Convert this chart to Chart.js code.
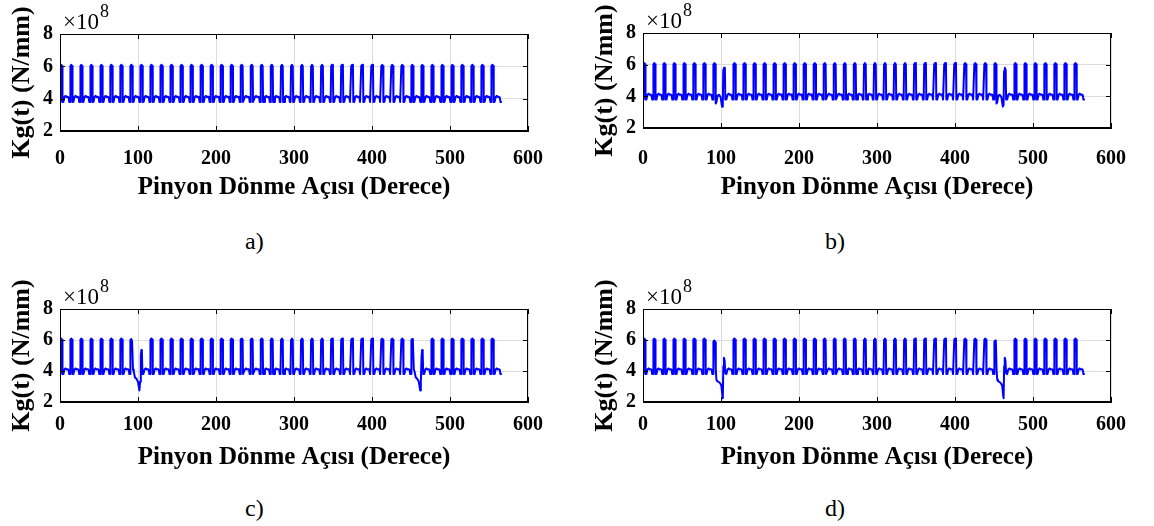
<!DOCTYPE html>
<html>
<head>
<meta charset="utf-8">
<script src="https://cdn.jsdelivr.net/npm/chart.js@4.4.1/dist/chart.umd.min.js"></script>
<style>
  body { margin: 0; background: #fff; width: 1154px; height: 526px; position: relative; overflow: hidden; }
  canvas { position: absolute; }
  .tag { position: absolute; font-family: "Liberation Serif", serif; font-size: 24px; line-height: 24px; color: #000; }
</style>
</head>
<body>
<canvas id="pa" width="577" height="200" style="left:0px;top:0px"></canvas>
<canvas id="pb" width="577" height="200" style="left:583px;top:0px"></canvas>
<canvas id="pc" width="577" height="200" style="left:0px;top:275px"></canvas>
<canvas id="pd" width="577" height="200" style="left:583px;top:275px"></canvas>
<div class="tag" style="left:245px;top:229px">a)</div>
<div class="tag" style="left:825px;top:229px">b)</div>
<div class="tag" style="left:245px;top:496px">c)</div>
<div class="tag" style="left:825px;top:496px">d)</div>
<script>
// axis ticks
var xTicks = [0, 100, 200, 300, 400, 500, 600];
var yTicks = [2, 4, 6, 8];
var xTitle = "Pinyon Dönme Açısı (Derece)";
var yTitle = "Kg(t) (N/mm)";

// start angle of every tooth pair engagement (deg)
var toothStart = [0, 12.86, 25.71, 38.57, 51.43, 64.29, 77.14, 90.00, 102.86, 115.71,
    128.57, 141.43, 154.29, 167.14, 180.00, 192.86, 205.71, 218.57, 231.43, 244.29,
    257.14, 270.00, 282.86, 295.71, 308.57, 321.43, 334.29, 347.14, 360.00, 372.86,
    385.71, 398.57, 411.43, 424.29, 437.14, 450.00, 462.86, 475.71, 488.57, 501.43,
    514.29, 527.14, 540.00, 552.86];

// one healthy mesh cycle: offset from tooth start (deg) and stiffness (x1e8 N/mm)
var healthyDx = [0, 0.5, 1.6, 2.7, 3.2, 4.4, 5.6, 7.0, 8.4, 9.8, 10.9, 11.8, 12.7];
var healthyK  = [3.8, 6.02, 6.1, 6.02, 3.8, 3.8, 4.1, 4.17, 4.1, 4.12, 4.08, 3.8, 3.8];

// cracked tooth windows (deg) - same tooth, once per pinion revolution
var crackStart = [90, 450];
var crackSpan = 25.7;

// b) small crack
var crackB_dx = [0, 0.5, 1.6, 2.7, 3.2, 4.0, 5.6, 7.5, 9.5, 11.3, 12.3, 12.9, 13.9, 15.0, 15.5, 16.9, 18.3, 19.8, 21.2, 22.6, 23.7, 24.6, 25.6];
var crackB_k  = [3.8, 6.02, 6.1, 6.02, 3.55, 3.6, 4.05, 4.1, 3.95, 3.35, 3.45, 5.6, 5.8, 5.65, 3.8, 3.8, 4.1, 4.17, 4.1, 4.12, 4.08, 3.8, 3.8];

// c) medium crack
var crackC_dx = [0, 0.5, 1.5, 2.4, 3.6, 4.6, 6.0, 8.0, 10.0, 11.8, 12.6, 13.6, 14.3, 15.0, 15.7, 16.9, 18.3, 19.8, 21.2, 22.6, 23.7, 24.6, 25.6];
var crackC_k  = [3.8, 6.0, 6.06, 5.9, 4.1, 3.95, 3.6, 3.5, 3.3, 2.75, 3.3, 5.0, 5.35, 5.15, 3.8, 3.8, 4.1, 4.17, 4.1, 4.12, 4.08, 3.8, 3.8];

// d) large crack
var crackD_dx = [0, 0.5, 1.5, 2.4, 3.3, 4.1, 5.0, 7.0, 9.0, 10.5, 11.6, 12.3, 13.0, 13.8, 14.6, 15.6, 16.9, 18.3, 19.8, 21.2, 22.6, 23.7, 24.6, 25.6];
var crackD_k  = [3.8, 5.9, 5.97, 5.85, 4.1, 3.45, 3.35, 3.3, 3.2, 3.05, 2.5, 2.25, 4.3, 4.85, 4.7, 3.85, 3.8, 4.1, 4.17, 4.1, 4.12, 4.08, 3.8, 3.8];

function buildSeries(cDx, cK) {
    var pts = [];
    for (var i = 0; i < toothStart.length; i++) {
        var t = toothStart[i];
        var inCrack = false;
        if (cDx) {
            for (var j = 0; j < crackStart.length; j++) {
                if (t >= crackStart[j] - 0.01 && t < crackStart[j] + crackSpan - 0.01) inCrack = true;
            }
        }
        if (inCrack) continue;
        for (var k = 0; k < healthyDx.length; k++) {
            pts.push({ x: t + healthyDx[k], y: healthyK[k] });
        }
    }
    if (cDx) {
        for (var j = 0; j < crackStart.length; j++) {
            for (var k = 0; k < cDx.length; k++) {
                pts.push({ x: crackStart[j] + cDx[k], y: cK[k] });
            }
        }
    }
    pts.sort(function (a, b) { return a.x - b.x; });
    return pts;
}

var serif = '"Liberation Serif", "Times New Roman", serif';

// frame, inner ticks, titles and the x10^8 exponent
var frame = {
    id: "frame",
    afterDraw: function (chart, args, opts) {
        var ctx = chart.ctx;
        var a = chart.chartArea;
        var xs = chart.scales.x, ys = chart.scales.y;
        ctx.save();
        ctx.strokeStyle = "#000";
        ctx.lineWidth = 1;
        ctx.beginPath();
        xTicks.forEach(function (v) {
            var px = Math.round(xs.getPixelForValue(v)) + 0.5;
            ctx.moveTo(px, a.bottom); ctx.lineTo(px, a.bottom - 5);
            ctx.moveTo(px, a.top); ctx.lineTo(px, a.top + 5);
        });
        yTicks.forEach(function (v) {
            var py = Math.round(ys.getPixelForValue(v)) + 0.5;
            ctx.moveTo(a.left, py); ctx.lineTo(a.left + 5, py);
            ctx.moveTo(a.right, py); ctx.lineTo(a.right - 5, py);
        });
        ctx.stroke();
        ctx.strokeRect(Math.round(a.left) + 0.5, Math.round(a.top) + 0.5,
            Math.round(a.right - a.left) - 1, Math.round(a.bottom - a.top) - 1);

        ctx.fillStyle = "#000";
        ctx.font = "bold 25px " + serif;
        ctx.textAlign = "center";
        ctx.textBaseline = "alphabetic";
        ctx.fillText(xTitle, (a.left + a.right) / 2, opts.titleY);

        ctx.save();
        ctx.translate(22, (a.top + a.bottom) / 2);
        ctx.rotate(-Math.PI / 2);
        ctx.textBaseline = "middle";
        ctx.font = "bold 26px " + serif;
        ctx.fillText(yTitle, 0, 0);
        ctx.restore();

        ctx.textAlign = "left";
        ctx.font = "23px " + serif;
        ctx.fillText("\u00d710", a.left + 3, a.top - 5);
        var w = ctx.measureText("\u00d710").width;
        ctx.font = "18px " + serif;
        ctx.fillText("8", a.left + 4 + w, a.top - 17);
        ctx.restore();
    }
};

function drawPanel(id, series, box) {
    var tickFont = { family: serif, size: 20, weight: "bold" };
    new Chart(document.getElementById(id), {
        type: "line",
        data: {
            datasets: [{
                data: series,
                borderColor: "#0000ff",
                borderWidth: 2,
                borderJoinStyle: "round",
                borderCapStyle: "round",
                pointRadius: 0,
                tension: 0,
                fill: false
            }]
        },
        options: {
            responsive: false,
            animation: false,
            devicePixelRatio: 1,
            layout: { padding: { left: 0, top: box.top, right: 577 - 528, bottom: 0 } },
            plugins: {
                legend: { display: false },
                tooltip: { enabled: false },
                frame: { titleY: box.titleY }
            },
            scales: {
                x: {
                    type: "linear",
                    min: 0,
                    max: 600,
                    afterBuildTicks: function (s) { s.ticks = xTicks.map(function (v) { return { value: v }; }); },
                    afterFit: function (s) { s.height = 200 - box.bottom; },
                    ticks: { font: tickFont, color: "#000", padding: box.tickPad, maxRotation: 0, autoSkip: false },
                    grid: { color: "#dcdcdc", drawTicks: false },
                    border: { color: "#000", width: 1 }
                },
                y: {
                    min: 2,
                    max: 8,
                    afterBuildTicks: function (s) { s.ticks = yTicks.map(function (v) { return { value: v }; }); },
                    afterFit: function (s) { s.width = 60; },
                    ticks: { font: tickFont, color: "#000", padding: 7 },
                    grid: { color: "#dcdcdc", drawTicks: false },
                    border: { color: "#000", width: 1 }
                }
            }
        },
        plugins: [frame]
    });
}

drawPanel("pa", buildSeries(null, null), { top: 34, bottom: 131, tickPad: 16, titleY: 194 });
drawPanel("pb", buildSeries(crackB_dx, crackB_k), { top: 33, bottom: 128, tickPad: 19, titleY: 194 });
drawPanel("pc", buildSeries(crackC_dx, crackC_k), { top: 34, bottom: 127, tickPad: 11, titleY: 189 });
drawPanel("pd", buildSeries(crackD_dx, crackD_k), { top: 34, bottom: 127, tickPad: 11, titleY: 189 });
</script>
</body>
</html>
